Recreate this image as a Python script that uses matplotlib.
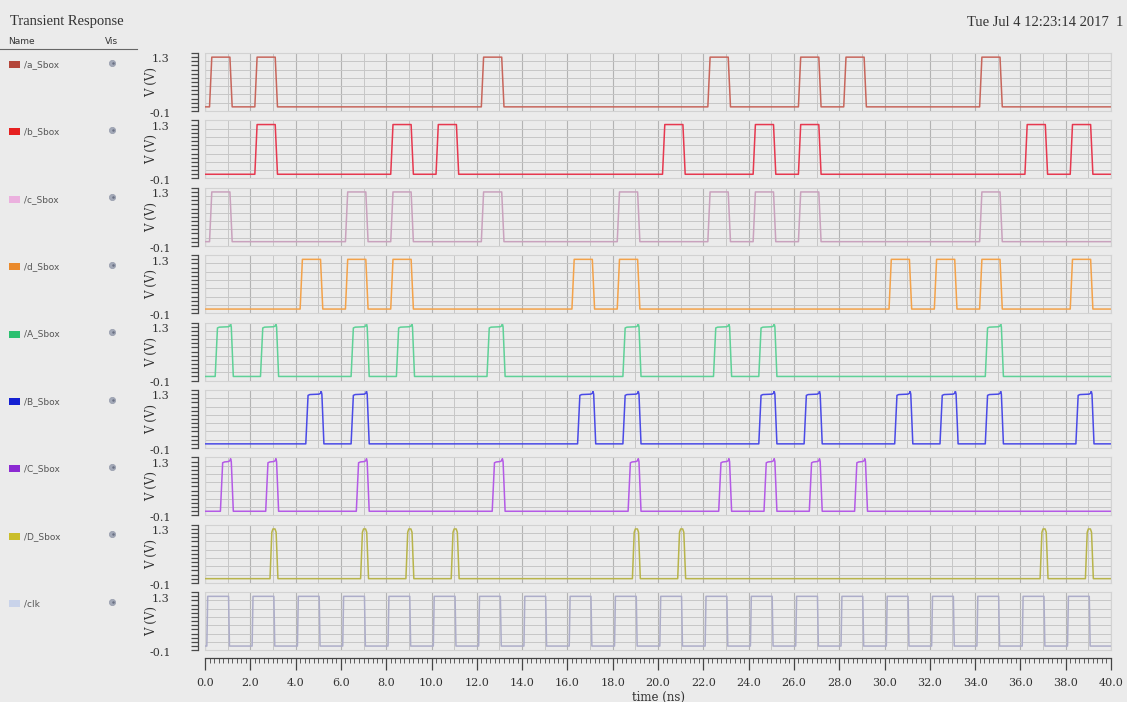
import matplotlib
matplotlib.use("Agg")
import matplotlib.pyplot as plt
from matplotlib.patches import Rectangle
from matplotlib.ticker import MultipleLocator, FixedLocator
import numpy as np

# ---------------- data ----------------
signal_names = ["/a_Sbox", "/b_Sbox", "/c_Sbox", "/d_Sbox",
                "/A_Sbox", "/B_Sbox", "/C_Sbox", "/D_Sbox", "/clk"]

# rising-edge times (ns) of every pulse
a_rise = [0.2, 2.2, 12.2, 22.2, 26.2, 28.2, 34.2]
b_rise = [2.2, 8.2, 10.2, 20.2, 24.2, 26.2, 36.2, 38.2]
c_rise = [0.2, 6.2, 8.2, 12.2, 18.2, 22.2, 24.2, 26.2, 34.2]
d_rise = [4.2, 6.2, 8.2, 16.2, 18.2, 30.2, 32.2, 34.2, 38.2]
A_rise = [0.45, 2.45, 6.45, 8.45, 12.45, 18.45, 22.45, 24.45, 34.45]
B_rise = [4.45, 6.45, 16.45, 18.45, 24.45, 26.45, 30.45, 32.45, 34.45, 38.45]
C_rise = [0.68, 2.68, 6.68, 12.68, 18.68, 22.68, 24.68, 26.68, 28.68]
D_rise = [2.87, 6.87, 8.87, 10.87, 18.87, 20.87, 36.87, 38.87]
clk_rise = [0.08, 2.08, 4.08, 6.08, 8.08, 10.08, 12.08, 14.08, 16.08, 18.08,
            20.08, 22.08, 24.08, 26.08, 28.08, 30.08, 32.08, 34.08, 36.08, 38.08]

# pulse widths (ns) per signal
pulse_width = [1.0, 1.0, 1.0, 1.0, 0.8, 0.8, 0.57, 0.35, 1.0]
v_low = 0.0
v_high = 1.2
t_end = 40.0

x_tick_values = [0, 2, 4, 6, 8, 10, 12, 14, 16, 18, 20,
                 22, 24, 26, 28, 30, 32, 34, 36, 38, 40]
y_tick_labels = ["1.3", "-0.1"]

rises = [a_rise, b_rise, c_rise, d_rise, A_rise, B_rise, C_rise, D_rise, clk_rise]

# ---------------- style ----------------
line_colors = ["#c7665c", "#e6384f", "#c9a2bd", "#f3a24a", "#5fd197",
               "#4a4ae6", "#b45ae6", "#b8b44a", "#adadc9"]
swatch_colors = ["#b4463a", "#e62020", "#ebb0de", "#ea8a2c", "#2cc070",
                 "#1420d2", "#8c2ad2", "#cabe2a", "#c9d3ea"]
shape_kind = ["in", "in", "in", "in", "out", "out", "out", "narrow", "clk"]

BG = "#ebebeb"
FW, FH = 1127, 702

plt.rcParams["font.family"] = ["DejaVu Serif"]


def waveform(rise_list, width, kind):
    ts = [0.0]
    vs = [v_low]
    if kind == "clk":
        tr, tf = 0.04, 0.04
    elif kind == "narrow":
        tr, tf = 0.08, 0.08
    else:
        tr, tf = 0.1, 0.1
    for r in rise_list:
        f = r + width
        if kind == "out":
            ts += [r, r + tr, r + tr + 0.08, f - tf - 0.12, f - tf - 0.05,
                   f - tf - 0.02, f - tf + 0.01, f]
            vs += [v_low, v_high - 0.03, v_high - 0.01, v_high, v_high + 0.02,
                   v_high + 0.07, v_high, v_low]
        elif kind == "narrow":
            ts += [r, r + tr, r + tr + 0.05, f - tf - 0.05, f - tf, f]
            vs += [v_low, v_high - 0.08, v_high, v_high, v_high - 0.08, v_low]
        else:
            ts += [r, r + tr, f - tf, f]
            vs += [v_low, v_high, v_high, v_low]
    ts.append(t_end)
    vs.append(v_low)
    return np.array(ts), np.array(vs)


fig = plt.figure(figsize=(FW / 100, FH / 100), dpi=100, facecolor=BG)

# overlay axes in pixel coordinates for the left "Name/Vis" browser and header
ov = fig.add_axes([0, 0, 1, 1], zorder=-1)
ov.set_xlim(0, FW)
ov.set_ylim(FH, 0)
ov.axis("off")
ov.set_facecolor(BG)

ov.text(10, 22, "Transient Response", fontsize=10.5, family="Liberation Serif",
        va="center", ha="left", color="#333333")
ov.text(1123, 22, "Tue Jul 4 12:23:14 2017  1", fontsize=10.5,
        family="Liberation Serif", va="center", ha="right", color="#333333")
ov.text(8, 42, "Name", fontsize=6.5, family="DejaVu Sans", va="center",
        color="#333333")
ov.text(105, 42, "Vis", fontsize=6.5, family="DejaVu Sans", va="center",
        color="#333333")
ov.plot([0, 137], [49, 49], color="#666666", lw=0.8)

# panel geometry (pixels)
px_left, px_right = 205, 1111
top0, pitch, ph = 53, 67.4, 58

for i, name in enumerate(signal_names):
    top = top0 + pitch * i
    # legend swatch + name + eye
    ov.add_patch(Rectangle((9, top + 8), 11, 7, color=swatch_colors[i], lw=0))
    ov.text(24, top + 11.5, name, fontsize=6.5, family="DejaVu Sans",
            va="center", ha="left", color="#555555")
    ov.plot([112], [top + 9.5], marker="o", ms=4.5, color="#a3a9b8",
            mec="#959bab", mew=0.5)
    ov.plot([112.5], [top + 9.5], marker="o", ms=1.8, color="#6a7084", mew=0)

    ax = fig.add_axes([px_left / FW, 1 - (top + ph) / FH,
                       (px_right - px_left) / FW, ph / FH])
    ax.set_facecolor(BG)
    ax.set_xlim(0, t_end)
    ax.set_ylim(-0.1, 1.3)

    # grid
    ax.xaxis.set_major_locator(MultipleLocator(2))
    ax.xaxis.set_minor_locator(MultipleLocator(1))
    ax.grid(True, which="major", axis="x", color="#b3b3b3", lw=0.8)
    ax.grid(True, which="minor", axis="x", color="#c6c6c6", lw=0.7)
    ax.yaxis.set_major_locator(FixedLocator(list(np.arange(-0.1, 1.31, 0.2))))
    ax.yaxis.set_minor_locator(MultipleLocator(0.1))
    ax.grid(True, which="major", axis="y", color="#c6c6c6", lw=0.7)
    ax.tick_params(axis="x", which="both", length=0, labelbottom=False)
    ax.tick_params(axis="y", which="both", direction="out", length=4.8,
                   width=0.9, color="#4a4a4a", labelleft=False)
    for s in ["top", "right", "bottom"]:
        ax.spines[s].set_color("#d2d2d2")
        ax.spines[s].set_linewidth(0.8)
    ax.spines["left"].set_position(("outward", 5))
    ax.spines["left"].set_color("#4a4a4a")
    ax.spines["left"].set_linewidth(0.9)
    # panel left border line (inside)
    ax.axvline(0, color="#d2d2d2", lw=0.8)

    t, v = waveform(rises[i], pulse_width[i], shape_kind[i])
    ax.plot(t, v, color=line_colors[i], lw=1.1, solid_joinstyle="round")

    ax.annotate(y_tick_labels[0], xy=(0, 1.3), xycoords=("axes fraction", "data"),
                xytext=(-32, -1), textcoords="offset points", ha="center",
                va="top", fontsize=8, color="#333333")
    ax.annotate(y_tick_labels[1], xy=(0, -0.1), xycoords=("axes fraction", "data"),
                xytext=(-32, -2), textcoords="offset points", ha="center",
                va="center", fontsize=8, color="#333333")
    ax.set_ylabel("V (V)", fontsize=8.5, color="#333333", labelpad=24)

# bottom time axis
axx = fig.add_axes([px_left / FW, 1 - 658 / FH, (px_right - px_left) / FW, 0.0001])
axx.set_facecolor("none")
axx.set_xlim(0, t_end)
axx.set_xticks(x_tick_values)
axx.set_xticklabels([f"{x:.1f}" for x in x_tick_values])
axx.xaxis.set_minor_locator(MultipleLocator(0.2))
axx.set_yticks([])
for s in ["top", "left", "right"]:
    axx.spines[s].set_visible(False)
axx.spines["bottom"].set_color("#444444")
axx.spines["bottom"].set_linewidth(0.9)
axx.tick_params(axis="x", which="major", direction="out", length=8.5, width=0.9,
                color="#444444", labelsize=8, labelcolor="#333333", pad=6)
axx.tick_params(axis="x", which="minor", direction="out", length=3.5, width=0.6,
                color="#444444")
axx.set_xlabel("time (ns)", fontsize=8.5, color="#333333", labelpad=2)

fig.savefig("out.png", dpi=100, facecolor=BG)
